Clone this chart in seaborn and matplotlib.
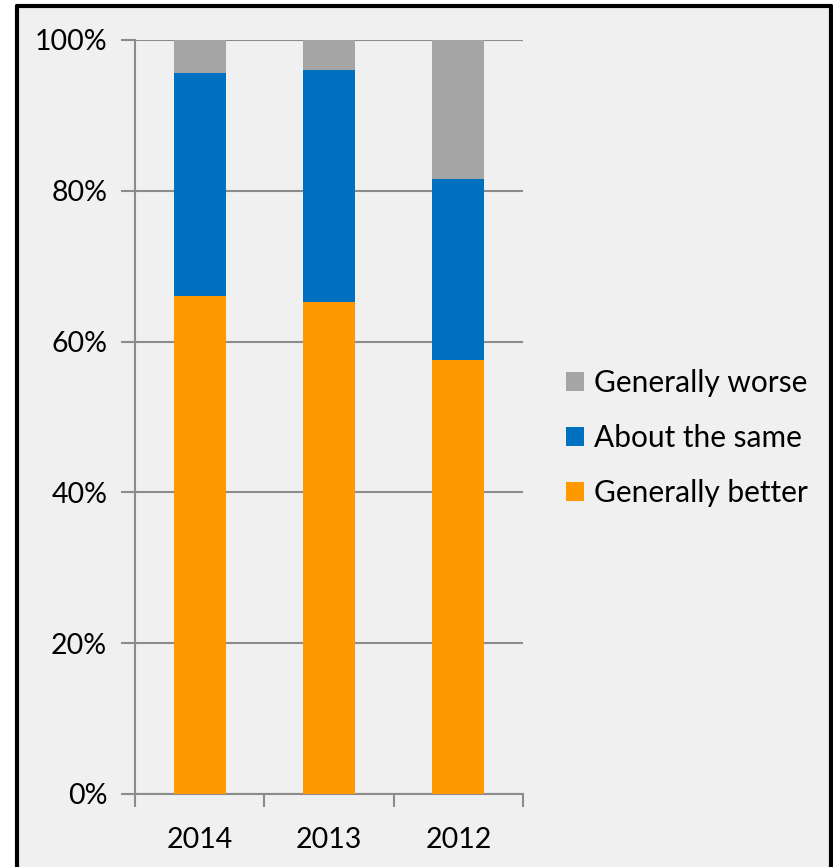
import matplotlib
matplotlib.use("Agg")
import matplotlib.pyplot as plt
import seaborn as sns
import pandas as pd
import numpy as np
from matplotlib.patches import Patch
from matplotlib.lines import Line2D

years = ["2014", "2013", "2012"]
generally_better = [66.0, 65.2, 57.5]
about_the_same = [29.6, 30.8, 24.0]
generally_worse = [4.4, 4.0, 18.5]

series_names = ["Generally worse", "About the same", "Generally better"]
colors = {"Generally worse": "#A5A5A5", "About the same": "#0070C0", "Generally better": "#FF9900"}

bg = "#F0F0F0"
sns.set_theme(style="white")
plt.rcParams["font.family"] = ["Lato", "DejaVu Sans"]
plt.rcParams["text.color"] = "black"

W, H = 833, 867
fig = plt.figure(figsize=(8.33, 8.67), dpi=100, facecolor="white")
bgrect = plt.Rectangle((17/W, 0), (831-17)/W, 1 - 6/H, transform=fig.transFigure,
                       facecolor=bg, edgecolor="none", zorder=-10)
fig.add_artist(bgrect)
ax = fig.add_axes([135/W, 1 - 794/H, (523-135)/W, (794-40)/H])
ax.set_facecolor(bg)
ax.patch.set_alpha(0)

better = np.array(generally_better)
same = np.array(about_the_same)
worse = np.array(generally_worse)
df = pd.DataFrame({
    "year": years,
    "total": better + same + worse,
    "mid": better + same,
    "low": better,
})

for col, name in [("total", "Generally worse"), ("mid", "About the same"), ("low", "Generally better")]:
    sns.barplot(data=df, x="year", y=col, order=years, color=colors[name], width=0.40,
                saturation=1, ax=ax, zorder=3, edgecolor="none", linewidth=0)

ax.set_ylim(0, 100)
ax.set_xlim(-0.5, 2.5)
ax.set_yticks([0, 20, 40, 60, 80, 100])
ax.set_yticklabels([f"{v}%" for v in [0, 20, 40, 60, 80, 100]])
ax.set_xlabel("")
ax.set_ylabel("")
ax.yaxis.grid(True, color="#8C8C8C", linewidth=1.5, zorder=0)
ax.set_axisbelow(True)
for s in ["top", "right"]:
    ax.spines[s].set_visible(False)
for s in ["left", "bottom"]:
    ax.spines[s].set_color("#8C8C8C")
    ax.spines[s].set_linewidth(1.5)

ax.set_xticks([-0.5, 0.5, 1.5, 2.5], minor=True)
ax.tick_params(axis="x", which="minor", length=9, width=1.5, color="#8C8C8C", direction="out", bottom=True)
ax.tick_params(axis="x", which="major", length=0, labelsize=20.5, pad=24, colors="black")
ax.tick_params(axis="y", which="major", length=10, width=1.5, color="#8C8C8C", direction="out",
               labelsize=20.5, pad=10, left=True, labelcolor="black")

handles = [Patch(facecolor=colors[n], edgecolor="none", label=n) for n in series_names]
leg = fig.legend(handles=handles, loc="center left", bbox_to_anchor=(566/W, 1 - 438/H),
                 frameon=False, fontsize=21.5, handlelength=0.6, handleheight=0.6,
                 handletextpad=0.35, labelspacing=0.9, borderaxespad=0, borderpad=0)
for t in leg.get_texts():
    t.set_color("black")

lw = 3
fig.add_artist(Line2D([17/W, 17/W], [0, 1 - 6/H], transform=fig.transFigure, color="black", linewidth=lw))
fig.add_artist(Line2D([17/W, 831/W], [1 - 6/H, 1 - 6/H], transform=fig.transFigure, color="black", linewidth=lw))
fig.add_artist(Line2D([831/W, 831/W], [0, 1 - 6/H], transform=fig.transFigure, color="black", linewidth=lw))

fig.savefig("out.png", dpi=100, facecolor="white")
